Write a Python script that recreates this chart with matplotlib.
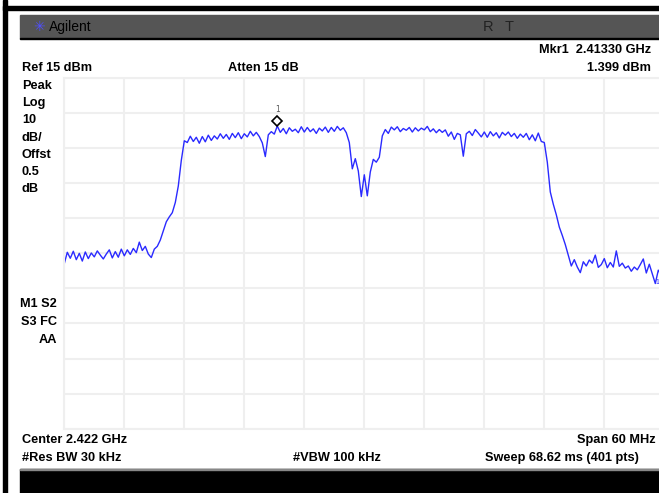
import numpy as np
import matplotlib.pyplot as plt
from matplotlib.patches import Rectangle

# analyzer settings
center_ghz = 2.422
span_mhz = 60
ref_dbm = 15
db_per_div = 10
mkr_freq_ghz = 2.41330
mkr_level_dbm = 1.399

# trace levels (dBm), every 0.3 MHz
levels = [
    -37.9, -34.7, -36.4, -34.4, -36.8, -35.0, -37.2, -34.6, -36.5, -34.9,
    -36.0, -34.3, -35.5, -36.6, -35.2, -34.0, -36.3, -34.5, -36.1, -33.8,
    -35.7, -34.0, -35.3, -33.6, -34.8, -31.8, -34.2, -33.0, -35.2, -36.2,
    -33.8, -33.0, -31.2, -28.6, -26.0, -24.6, -23.4, -20.5, -15.8, -8.5,
    -2.9, -3.4, -1.6, -3.1, -1.9, -3.6, -1.7, -3.2, -1.3, -2.8,
    -1.5, -2.4, -0.9, -2.2, -1.1, -2.5, -0.8, -2.0, -0.6, -2.3,
    -0.9, -1.8, -0.2, -1.5, -0.5, -1.7, -3.5, -7.4, -1.2, -0.3,
    -1.0, 1.3, -0.5, 0.6, -0.9, 0.8, -0.2, 0.4, -0.6, 1.1,
    -0.4, 0.9, -0.3, 0.5, -0.8, 0.7, -0.1, 1.0, -0.5, 0.9,
    -0.2, 1.2, 0.1, 0.8, -0.6, -3.4, -10.9, -8.0, -11.5, -18.8,
    -12.6, -18.6, -11.8, -8.2, -9.0, -7.6, -1.5, 0.3, -0.8, 1.0,
    0.2, 1.1, -0.3, 0.6, 0.1, 0.9, -0.4, 0.8, -0.1, 0.7,
    0.2, 1.2, -0.3, 0.5, -0.6, 0.3, -0.5, 0.2, -1.6, -0.4,
    -2.5, -0.8, -1.2, -7.3, -0.9, -0.2, -1.4, 0.3, -0.7, -1.8,
    -0.4, -1.9, -0.3, -1.5, -0.6, -2.1, -0.5, -1.3, -0.4, -1.7,
    -0.8, -2.2, -1.0, -1.9, -0.8, -2.6, -1.2, -2.9, -0.7, -3.1,
    -3.4, -9.0, -17.5, -21.0, -24.0, -27.5, -29.9, -32.5, -35.6, -38.6,
    -36.8, -38.9, -40.5, -37.4, -38.6, -36.9, -37.8, -35.5, -39.0, -38.2,
    -36.5, -39.1, -37.6, -38.9, -34.3, -38.7, -37.8, -39.2, -38.6, -40.1,
    -38.9, -39.7, -38.2, -36.6, -40.6, -38.1, -40.9, -43.6, -39.8, -41.2,
    -40.2,
]

start = center_ghz - span_mhz / 2000
stop = center_ghz + span_mhz / 2000
freq = np.linspace(start, stop, len(levels))

W, H = 659, 493
fig = plt.figure(figsize=(W / 100, H / 100), dpi=100)
fig.patch.set_facecolor('white')


def px(x, y):
    return x / W, 1 - y / H


def label(x, y, s, ha='left', size=9.2, color='black', weight='bold'):
    fig.text(*px(x, y), s, ha=ha, va='center', fontsize=size, color=color,
             fontweight=weight, family=['Liberation Sans', 'DejaVu Sans'])


# frame, title bar and bottom bar
fig.add_artist(Rectangle(px(3, 493), 4 / W, 493 / H, color='black', transform=fig.transFigure))
fig.add_artist(Rectangle(px(3, 9.5), 1, 3.5 / H, color='black', transform=fig.transFigure))
fig.add_artist(Rectangle(px(20, 38), 1, 23 / H, color='#555555', transform=fig.transFigure))
fig.add_artist(Rectangle(px(20, 39), 1, 1.2 / H, color='black', transform=fig.transFigure))
fig.add_artist(Rectangle(px(20, 493), 1, 24 / H, color='black', transform=fig.transFigure))
fig.add_artist(Rectangle(px(20, 470), 1, 1.5 / H, color='#888888', transform=fig.transFigure))

label(33, 27, '✳', size=10, color='#5050ff', weight='normal')
label(49, 27, 'Agilent', size=10, weight='normal')
label(483, 27, 'R', size=10.5, color='#222222', weight='normal')
label(505, 27, 'T', size=10.5, color='#222222', weight='normal')

# grid area
ax = fig.add_axes([64.3 / W, (H - 428.7) / H, 600 / W, 350.7 / H])
ax.set_xlim(start, stop)
ax.set_ylim(ref_dbm - 10 * db_per_div, ref_dbm)
ax.set_xticks(np.linspace(start, stop, 11))
ax.set_yticks(np.arange(ref_dbm - 10 * db_per_div, ref_dbm + 1, db_per_div))
ax.grid(True, color='#efefef', linewidth=1.5)
ax.tick_params(length=0, labelbottom=False, labelleft=False)
for s in ax.spines.values():
    s.set_color('#efefef')
    s.set_linewidth(1.5)
ax.set_axisbelow(True)

ax.plot(freq, levels, color='#2a2aff', linewidth=1.0)
ax.plot([mkr_freq_ghz], [mkr_level_dbm + 1.2], marker='D', markersize=5.5,
        markerfacecolor='white', markeredgecolor='black', markeredgewidth=1.2)
ax.text(mkr_freq_ghz, mkr_level_dbm + 4.6, '1', ha='center', va='center',
        fontsize=5.5, color='#555555')

# annotations
label(22, 68, 'Ref 15 dBm')
label(228, 68, 'Atten 15 dB')
label(651, 50, 'Mkr1  2.41330 GHz', ha='right')
label(651, 68, '1.399 dBm', ha='right')
for i, s in enumerate(['Peak', 'Log', '10', 'dB/', 'Offst', '0.5', 'dB']):
    label(22, 86 + i * 17.2, s)
label(57, 304, 'M1 S2', ha='right')
label(57, 322, 'S3 FC', ha='right')
label(57, 340, 'AA', ha='right')
label(655, 283, '1', size=5, color='#2a2aff', weight='normal')
label(22, 440, 'Center 2.422 GHz')
label(22, 458, '#Res BW 30 kHz')
label(293, 458, '#VBW 100 kHz')
label(656, 440, 'Span 60 MHz', ha='right')
label(639, 458, 'Sweep 68.62 ms (401 pts)', ha='right')

fig.savefig('out.png', dpi=100)
